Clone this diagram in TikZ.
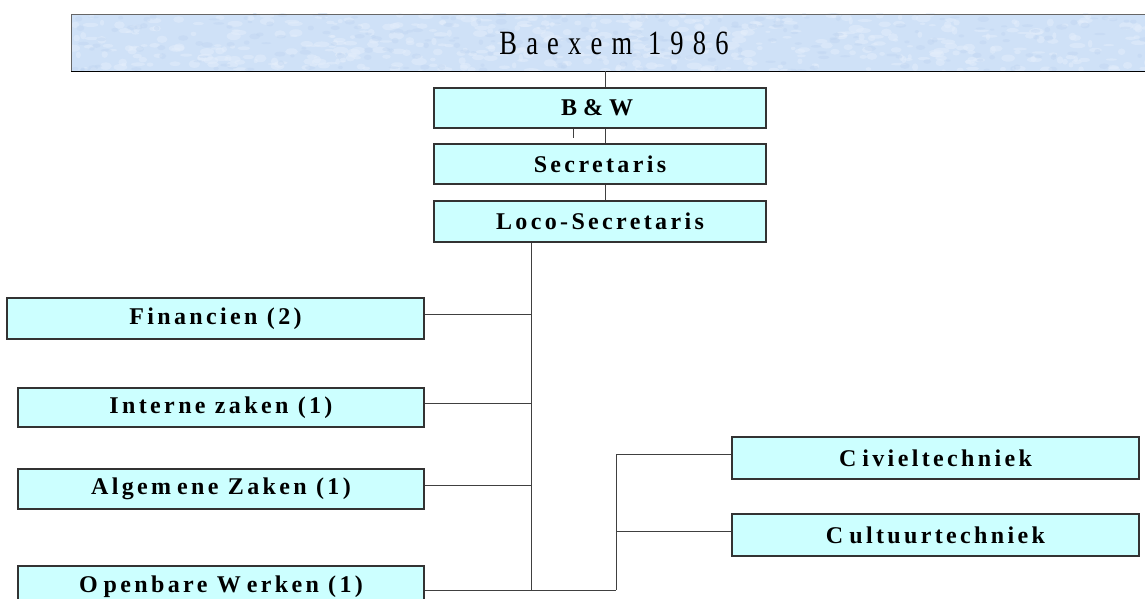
\documentclass[tikz,border=0pt]{standalone}
\usepackage{fontspec}
\setmainfont{Liberation Serif}
\newfontfamily\boxfont[LetterSpace=14]{Liberation Serif}
\newfontfamily\titlefont[FakeStretch=0.78,LetterSpace=27]{Liberation Serif}
\definecolor{boxfill}{RGB}{204,255,255}
\definecolor{titlefill}{RGB}{207,225,247}
\definecolor{titlelight}{RGB}{228,238,251}
\definecolor{titledark}{RGB}{190,212,240}
\begin{document}
\begin{tikzpicture}[x=1pt,y=-1pt,
  unit/.style={draw=black!80, line width=1.2pt, fill=boxfill, inner sep=0pt,
    font=\boxfont\bfseries\fontsize{24}{28}\selectfont, text=black},
  link/.style={draw=black!75, line width=1pt}]
\useasboundingbox (0,0) rectangle (1145,599);
% title banner
\node[fill=titlefill, inner sep=0pt,
  minimum width=1080pt, minimum height=57pt, anchor=north west] (title) at (71,14) {};
\begin{scope}
  \clip (title.north west) rectangle (title.south east);
  \pgfmathsetseed{7}
  \foreach \i in {1,...,500}{
    \pgfmathsetmacro{\px}{71+1080*rnd}
    \pgfmathsetmacro{\py}{14+57*rnd}
    \pgfmathsetmacro{\rx}{2+6*rnd}
    \pgfmathsetmacro{\ry}{1+3*rnd}
    \fill[titlelight, opacity=0.5] (\px,\py) ellipse [x radius=\rx pt, y radius=\ry pt];
  }
  \foreach \i in {1,...,250}{
    \pgfmathsetmacro{\px}{71+1080*rnd}
    \pgfmathsetmacro{\py}{14+57*rnd}
    \pgfmathsetmacro{\rx}{2+4*rnd}
    \pgfmathsetmacro{\ry}{1+2*rnd}
    \fill[titledark, opacity=0.4] (\px,\py) ellipse [x radius=\rx pt, y radius=\ry pt];
  }
\end{scope}
\draw[draw=black!60, line width=0.8pt] (title.south west) -- (title.north west) -- (title.north east);
\draw[draw=black, line width=1.6pt] (title.south west) -- (title.south east);
\node[font=\titlefont\fontsize{34}{38}\selectfont, text=black, inner sep=0pt] (ttext) at (614,43) {Baexem 1986};
% top chain
\node[unit, minimum width=332pt, minimum height=40pt] (bw) at (600,108) {\hspace*{-6pt}\fontspec{Liberation Serif}[LetterSpace=0]\bfseries B \& W};
\node[unit, minimum width=332pt, minimum height=40pt] (sec) at (600,164) {Secretaris};
\node[unit, minimum width=332pt, minimum height=41pt] (loco) at (600,221.5) {Loco-Secretaris};
% left departments
\node[unit, minimum width=417pt, minimum height=41pt] (fin) at (215.5,318.5) {Financien (2)};
\node[unit, minimum width=406pt, minimum height=39pt] (int) at (221,407.5) {Interne zaken (1)};
\node[unit, minimum width=406pt, minimum height=40pt] (alg) at (221,489) {Algem\hspace*{6pt}ene Zaken (1)};
\node[unit, minimum width=406pt, minimum height=41pt] (ow) at (221,586.5) {O\hspace*{6pt}penbare W\hspace*{6pt}erken (1)};
% right sub-departments
\node[unit, minimum width=407pt, minimum height=42pt] (civ) at (935.5,458) {C\hspace*{6pt}ivieltechniek};
\node[unit, minimum width=407pt, minimum height=42pt] (cul) at (935.5,535) {C\hspace*{6pt}ultuurtechniek};
% spine coordinates
\coordinate (spine) at (531,590);
\coordinate (sub) at (616,590);
% connectors
\draw[link] ([xshift=5pt]bw.north) -- ([xshift=5pt]bw.north |- title.south);
\draw[link] ([xshift=5pt]bw.south) -- ([xshift=5pt]sec.north);
\draw[link] ([xshift=-27pt]bw.south) -- ++(0,9);
\draw[link] ([xshift=5pt]sec.south) -- ([xshift=5pt]loco.north);
\draw[link] (loco.south -| spine) -- (spine);
\draw[link] ([yshift=4pt]fin.east) -- ([yshift=4pt]fin.east -| spine);
\draw[link] ([yshift=4pt]int.east) -- ([yshift=4pt]int.east -| spine);
\draw[link] ([yshift=4pt]alg.east) -- ([yshift=4pt]alg.east -| spine);
\draw[link] (ow.east |- spine) -- (sub);
\draw[link] (sub) -- ([yshift=4pt]civ.west -| sub) -- ([yshift=4pt]civ.west);
\draw[link] ([yshift=4pt]cul.west -| sub) -- ([yshift=4pt]cul.west);
\end{tikzpicture}
\end{document}
